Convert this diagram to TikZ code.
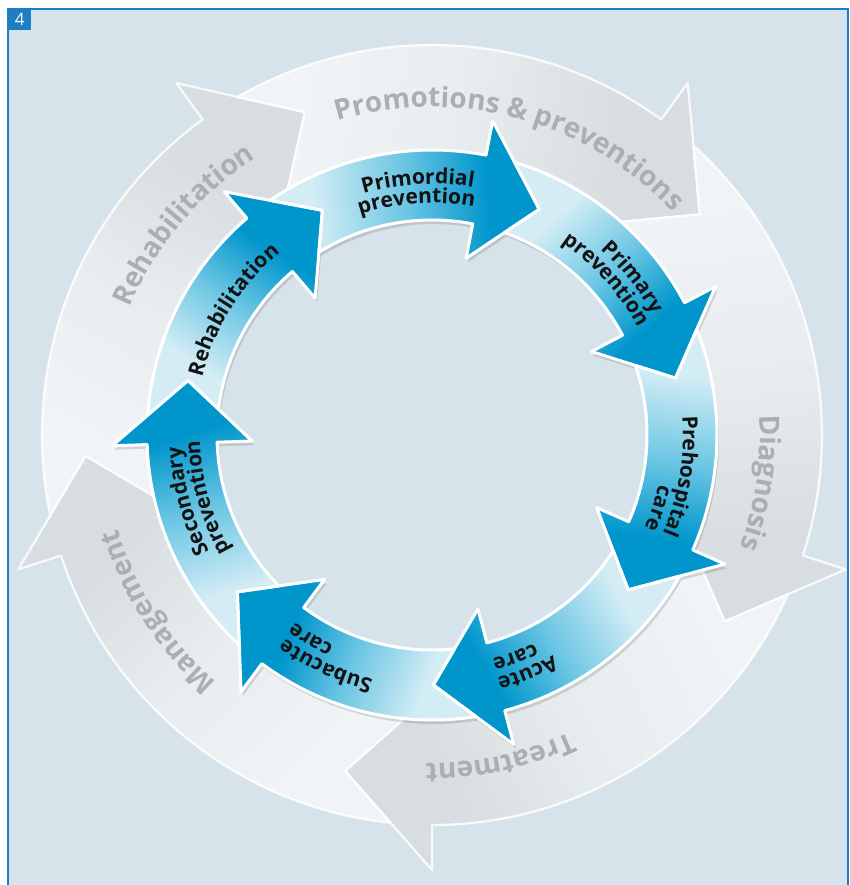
\documentclass[tikz,border=0pt]{standalone}
\usepackage{fontspec}
\setmainfont{Open Sans}
\usetikzlibrary{decorations.text}

\definecolor{bgc}{HTML}{D7E3EA}
\definecolor{framec}{HTML}{1E7EC4}
\definecolor{paleblue}{HTML}{D4EDF5}
\definecolor{midblue}{HTML}{6CC6E4}
\definecolor{deepblue}{HTML}{0096CC}
\definecolor{greytail}{HTML}{F1F4F6}
\definecolor{greymid}{HTML}{E7ECEE}
\definecolor{greyhead}{HTML}{D7DDE0}
\definecolor{greytext}{HTML}{A9B0B4}
\definecolor{inktext}{HTML}{121212}

\pgfdeclareverticalshading{bluegrad}{100bp}{color(0bp)=(paleblue); color(32bp)=(paleblue); color(50bp)=(midblue); color(66bp)=(deepblue); color(100bp)=(deepblue)}
\pgfdeclareverticalshading{greygrad}{100bp}{color(0bp)=(greytail); color(30bp)=(greytail); color(50bp)=(greymid); color(68bp)=(greyhead); color(100bp)=(greyhead)}

\newcommand\innerfmt{\fontsize{21}{21}\selectfont\bfseries}
\newcommand\outerfmt{\fontsize{28}{28}\selectfont\bfseries}

\newcommand\innerarc[3]{%
  \pgfmathsetmacro\tA{#1+45}\pgfmathsetmacro\tB{#1-45}%
  \path[decorate, decoration={text along path, text={|\innerfmt|#3}, text align=center, text color=inktext}]
    (\tA:#2) arc[start angle=\tA, end angle=\tB, radius=#2];}
\newcommand\outerarc[3]{%
  \pgfmathsetmacro\tA{#1+45}\pgfmathsetmacro\tB{#1-45}%
  \path[decorate, decoration={text along path, text={|\outerfmt|#3}, text align=center, text color=greytext}]
    (\tA:#2) arc[start angle=\tA, end angle=\tB, radius=#2];}

\tikzset{
  bluearrow/.style={shading=bluegrad, draw=white, line width=3pt, line join=round},
  blueshadow/.style={fill=black, fill opacity=0.13},
  greyarrow/.style={shading=greygrad, draw=white, draw opacity=0.85, line width=2.2pt, line join=round},
}

\begin{document}
\begin{tikzpicture}[x=1pt, y=1pt]
\useasboundingbox (-432,-450) rectangle (417,435);
\clip (-432,-450) rectangle (417,435);
\fill[white] (-432,-450) rectangle (417,435);
\fill[bgc] (-424,426) rectangle (416,-470);

% outer grey arrows
\foreach \g in {126,54,-18,-90,-162}{
  \pgfmathsetmacro\gA{\g+65.905}
  \pgfmathsetmacro\gB{\g-14.5}
  \pgfmathsetmacro\gC{\g+67.36}
  \pgfmathsetmacro\gD{\g+57.5}
  \pgfmathsetmacro\gS{\g-154.3}
  \shadedraw[greyarrow, shading angle=\gS]
    (\gA:390pt) arc[start angle=\gA, end angle=\g, radius=390pt]
    -- (\g:435pt) -- (\gB:347pt) -- (\g:259pt) -- (\g:280pt)
    arc[start angle=\g, end angle=\gC, radius=280pt]
    -- (\gD:347pt) -- cycle;
}

% outer labels
\outerarc{139.8}{328pt}{Rehabilitation}
\outerarc{74.8}{328pt}{Promotions {\&} preventions}
\outerarc{-8.3}{328pt}{Diagnosis}
\outerarc{-78.1}{328pt}{Treatment}
\outerarc{-147.2}{328pt}{Management}

% blue shadows
\foreach \b in {130.5,79.07,27.64,-23.79,-75.21,-126.64,-178.07}{
  \pgfmathsetmacro\bA{\b+45.525}
  \pgfmathsetmacro\bB{\b-14.5}
  \pgfmathsetmacro\bC{\b+42.66}
  \pgfmathsetmacro\bD{\b+36.93}
  \fill[blueshadow, shift={(2,-4)}]
    (\bA:285pt) arc[start angle=\bA, end angle=\b, radius=285pt]
    -- (\b:320pt) -- (\bB:250pt) -- (\b:180pt) -- (\b:215pt)
    arc[start angle=\b, end angle=\bC, radius=215pt]
    -- (\bD:250pt) -- cycle;
}
% blue arrows
\foreach \b in {130.5,79.07,27.64,-23.79,-75.21,-126.64,-178.07}{
  \pgfmathsetmacro\bA{\b+45.525}
  \pgfmathsetmacro\bB{\b-14.5}
  \pgfmathsetmacro\bC{\b+42.66}
  \pgfmathsetmacro\bD{\b+36.93}
  \pgfmathsetmacro\bS{\b-164.5}
  \shadedraw[bluearrow, shading angle=\bS]
    (\bA:285pt) arc[start angle=\bA, end angle=\b, radius=285pt]
    -- (\b:320pt) -- (\bB:250pt) -- (\b:180pt) -- (\b:215pt)
    arc[start angle=\b, end angle=\bC, radius=215pt]
    -- (\bD:250pt) -- cycle;
}

% inner labels
\innerarc{147.8}{237pt}{Rehabilitation}
\innerarc{93.2}{251pt}{Primordial}
\innerarc{93.8}{232pt}{prevention}
\innerarc{38.2}{251pt}{Primary}
\innerarc{41.8}{232pt}{prevention}
\innerarc{-9.4}{251pt}{Prehospital}
\innerarc{-17.9}{232pt}{care}
\innerarc{-68.1}{251pt}{Acute}
\innerarc{-69.4}{232pt}{care}
\innerarc{-114.7}{251pt}{Subacute}
\innerarc{-120.7}{232pt}{care}
\innerarc{195.2}{251pt}{Secondary}
\innerarc{195.6}{232pt}{prevention}

% frame and figure number
\draw[framec, line width=1.2pt] (-424,426) rectangle (416,-470);
\node[fill=framec, text=white, minimum width=23pt, minimum height=21pt, inner sep=0pt,
      anchor=north west, font=\fontsize{17}{17}\selectfont] (figno) at (-424,426) {4};
\end{tikzpicture}
\end{document}
